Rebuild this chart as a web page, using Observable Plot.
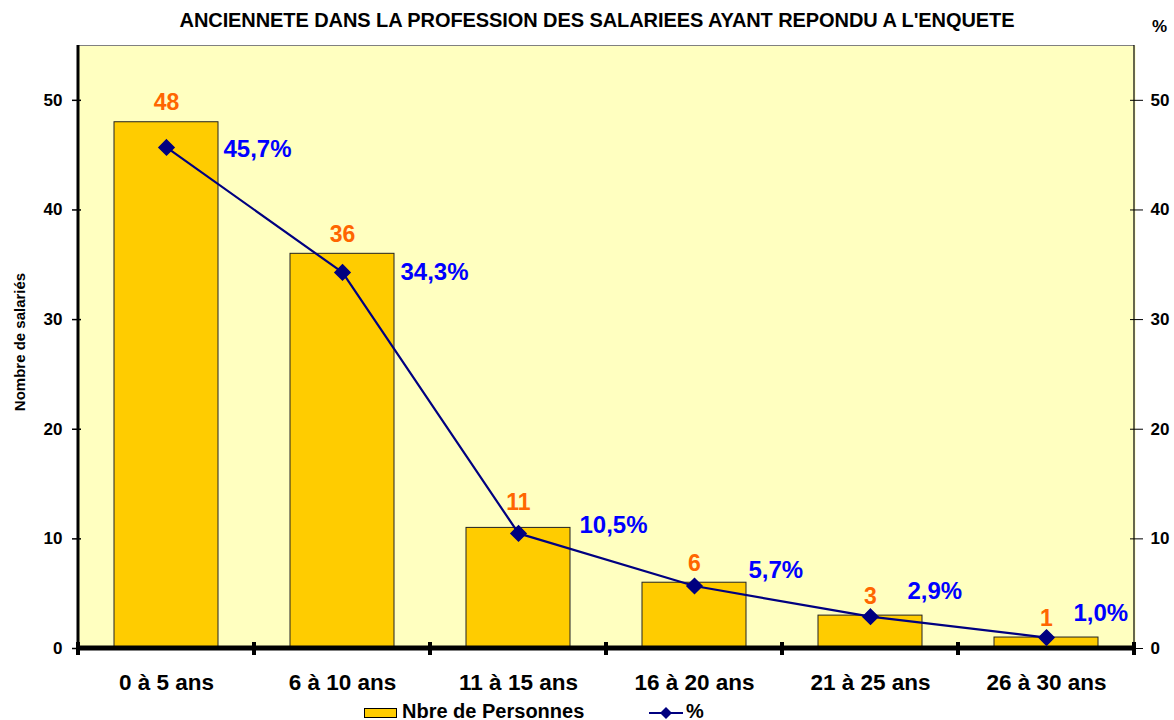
<!DOCTYPE html>
<html>
<head>
<meta charset="utf-8">
<script src="https://cdn.jsdelivr.net/npm/d3@7"></script>
<script src="https://cdn.jsdelivr.net/npm/@observablehq/plot@0.6"></script>
<style>
  html, body { margin: 0; padding: 0; background: #fff; }
  body { width: 1174px; height: 720px; overflow: hidden; font-family: "Liberation Sans", Arial, sans-serif; font-weight: bold; }
  #title { position: relative; height: 35px; }
  #title .t { position: absolute; left: 0; width: 1194px; top: 9px; text-align: center; font-size: 20px; line-height: 22px; color: #000; white-space: nowrap; letter-spacing: -0.08px; }
  #title .pct { position: absolute; left: 1152px; top: 17px; font-size: 17px; }
  #chart { position: relative; }
  #ylab { position: absolute; left: 19px; top: 307px; width: 0; height: 0; }
  #ylab span { position: absolute; transform: translate(-50%, -50%) rotate(-90deg); white-space: nowrap; font-size: 15px; line-height: 15px; }
  #legend { position: relative; height: 25px; }
  #legend .sw { position: absolute; left: 364px; top: 13px; width: 33px; height: 10px; background: #FFCC00; border: 1px solid #000; box-sizing: border-box; }
  #legend .lab { position: absolute; top: 6px; font-size: 20px; line-height: 20px; }
  #legend svg { position: absolute; left: 649px; top: 10px; }
  #chart svg { display: block; }
</style>
</head>
<body>
<div id="title"><div class="t">ANCIENNETE DANS LA PROFESSION DES SALARIEES AYANT REPONDU A L'ENQUETE</div><div class="pct">%</div></div>
<div id="chart"><div id="ylab"><span>Nombre de salariés</span></div></div>
<div id="legend">
  <div class="sw"></div><div class="lab" style="left:402px">Nbre de Personnes</div>
  <svg width="36" height="16"><line x1="0" y1="8" x2="34" y2="8" stroke="#000080" stroke-width="2"/><path d="M17,2L23,8L17,14L11,8Z" fill="#000080"/></svg>
  <div class="lab" style="left:686px">%</div>
</div>
<script>
// ---- data ----
const categories = ["0 à 5 ans", "6 à 10 ans", "11 à 15 ans", "16 à 20 ans", "21 à 25 ans", "26 à 30 ans"];
const counts = [48, 36, 11, 6, 3, 1];
const percents = [45.7, 34.3, 10.5, 5.7, 2.9, 1.0];
const percentLabels = ["45,7%", "34,3%", "10,5%", "5,7%", "2,9%", "1,0%"];
const yTicks = [0, 10, 20, 30, 40, 50];

const rows = categories.map((c, i) => ({cat: c, count: counts[i], pct: percents[i], pctLabel: percentLabels[i]}));

const FONT = '"Liberation Sans", Arial, sans-serif';
const W = 1174, H = 660, ML = 77, MR = 39, MT = 10, MB = 47;

// label offsets (layout only)
const countDy = [-20, -19, -25, -19, -19, -19];
const pctOffset = [[57, 2], [58, 0], [61, -8], [54, -16], [37, -25], [27, -24]];

// axis decorations drawn from the band scale and plot dimensions
function axisDecor(index, scales, values, dim) {
  const ns = "http://www.w3.org/2000/svg";
  const g = document.createElementNS(ns, "g");
  const x = scales.x, y = scales.y;
  const bw = x.bandwidth();
  const y0 = y(0);
  const left = x(categories[0]);
  const right = x(categories[categories.length - 1]) + bw;
  const top = dim.marginTop;
  const line = (x1, y1, x2, y2, w, c) => {
    const l = document.createElementNS(ns, "line");
    l.setAttribute("x1", x1); l.setAttribute("y1", y1);
    l.setAttribute("x2", x2); l.setAttribute("y2", y2);
    l.setAttribute("stroke", c); l.setAttribute("stroke-width", w);
    g.appendChild(l);
  };
  line(left, top + 0.5, right, top + 0.5, 1, "#808080");
  line(right, top, right, y0, 1.2, "#000");
  line(left, top, left, y0 + 2, 3, "#000");
  line(left - 1, y0, right + 1, y0, 5, "#000");
  const bounds = categories.map(c => x(c)).concat([right]);
  for (const bx of bounds) line(bx, y0 - 6, bx, y0 + 7, 4, "#000");
  return g;
}

const marks = [
  Plot.frame({fill: "#FFFFC0", stroke: null}),
  Plot.barY(rows, {x: "cat", y: "count", fill: "#FFCC00", stroke: "#222", strokeWidth: 1, insetLeft: 36, insetRight: 36}),
  Plot.axisY(yTicks, {anchor: "left", tickSize: 9, dx: 4, tickPadding: 10, fontSize: 17, fontWeight: "bold", fontFamily: FONT, stroke: "#000", strokeWidth: 1.5, label: null, tickFormat: d => String(d)}),
  Plot.axisY(yTicks, {anchor: "right", tickSize: 13, dx: -6, tickPadding: 8, fontSize: 17, fontWeight: "bold", fontFamily: FONT, stroke: "#000", strokeWidth: 1, label: null, tickFormat: d => String(d)}),
  Plot.axisX({anchor: "bottom", tickSize: 0, tickPadding: 26, fontSize: 22.5, fontWeight: "bold", fontFamily: FONT, label: null}),
  axisDecor,
  Plot.line(rows, {x: "cat", y: "pct", stroke: "#000080", strokeWidth: 2.2}),
  Plot.dot(rows, {x: "cat", y: "pct", symbol: "diamond2", r: 6.8, fill: "#000080", stroke: "#000080"})
];

rows.forEach((r, i) => {
  marks.push(Plot.text([r], {x: "cat", y: "count", text: d => String(d.count), dy: countDy[i], fill: "#FF6600", fontSize: 23, fontWeight: "bold", fontFamily: FONT}));
  marks.push(Plot.text([r], {x: "cat", y: "pct", text: "pctLabel", dx: pctOffset[i][0], dy: pctOffset[i][1], textAnchor: "start", fill: "#0000FF", fontSize: 24, fontWeight: "bold", fontFamily: FONT}));
});

const chart = Plot.plot({
  width: W, height: H,
  marginLeft: ML, marginRight: MR, marginTop: MT, marginBottom: MB,
  style: {background: "#fff", fontFamily: FONT, overflow: "visible"},
  x: {type: "band", domain: categories, padding: 0},
  y: {domain: [0, 55]},
  marks
});
document.getElementById("chart").appendChild(chart);
</script>
</body>
</html>
